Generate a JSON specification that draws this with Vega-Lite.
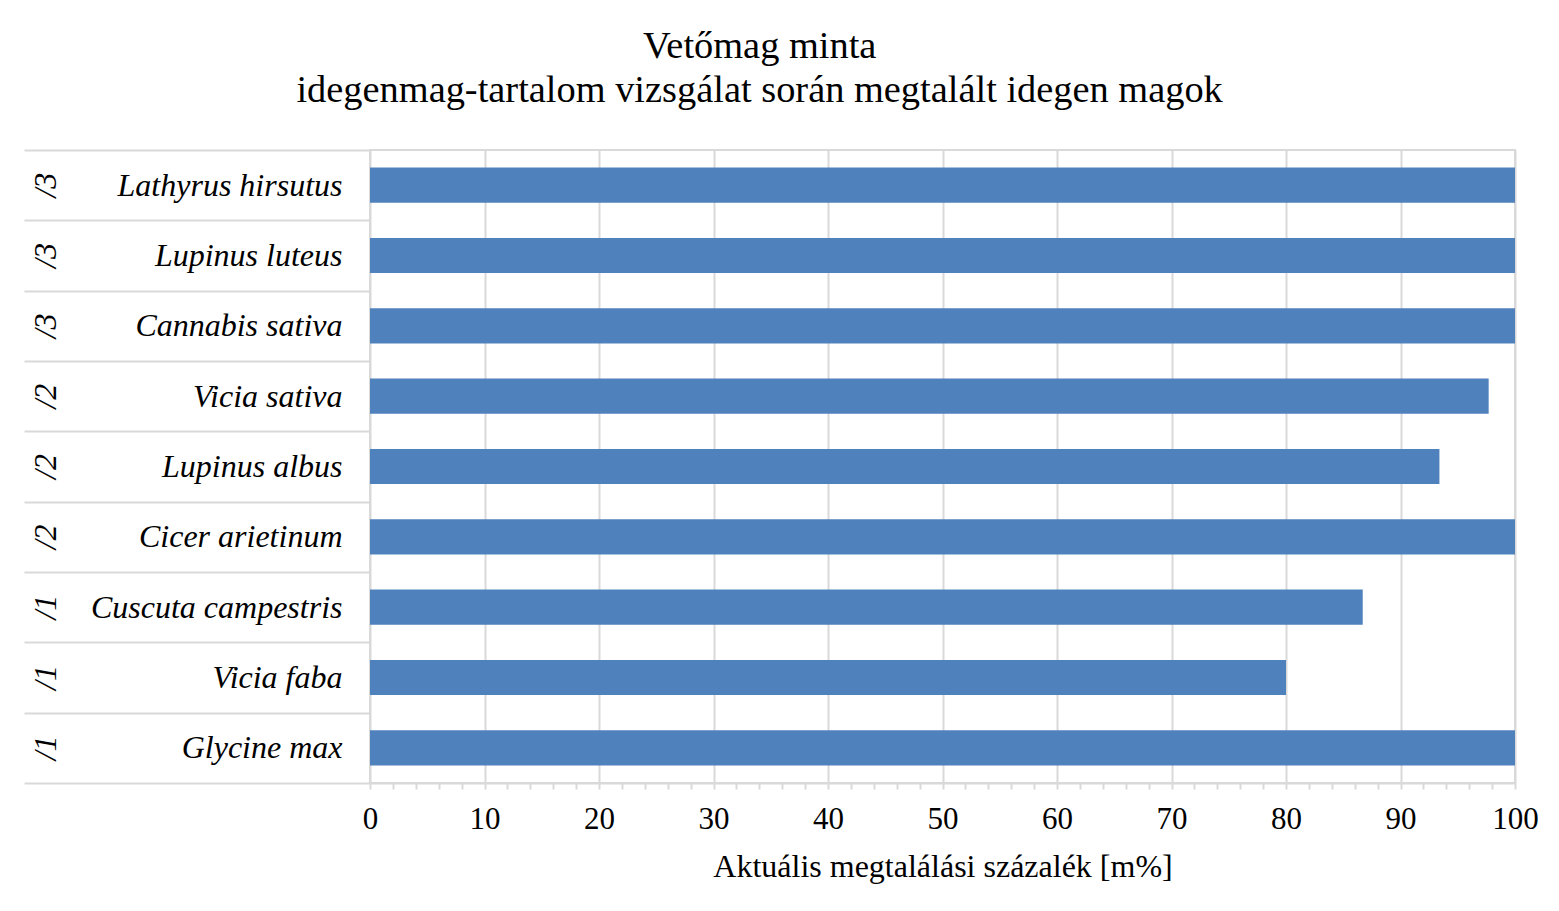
{
  "$schema": "https://vega.github.io/schema/vega-lite/v6.json",
  "width": 1145,
  "height": 633,
  "padding": {"left": 23, "top": 26, "right": 20, "bottom": 20},
  "background": "white",
  "title": {
    "text": ["Vetőmag minta", "idegenmag-tartalom vizsgálat során megtalált idegen magok"],
    "font": "Liberation Serif",
    "fontSize": 38.4,
    "fontWeight": "normal",
    "color": "#000000",
    "anchor": "middle",
    "frame": "bounds",
    "lineHeight": 44,
    "offset": 24,
    "dx": -21
  },
  "config": {
    "view": {"stroke": "#d9d9d9", "strokeWidth": 2},
    "font": "Liberation Serif"
  },
  "data": {
    "values": [
      {"group": "/3", "species": "Lathyrus hirsutus", "value": 100},
      {"group": "/3", "species": "Lupinus luteus", "value": 100},
      {"group": "/3", "species": "Cannabis sativa", "value": 100},
      {"group": "/2", "species": "Vicia sativa", "value": 97.7},
      {"group": "/2", "species": "Lupinus albus", "value": 93.4},
      {"group": "/2", "species": "Cicer arietinum", "value": 100},
      {"group": "/1", "species": "Cuscuta campestris", "value": 86.7},
      {"group": "/1", "species": "Vicia faba", "value": 80.0},
      {"group": "/1", "species": "Glycine max", "value": 100}
    ]
  },
  "transform": [{"calculate": "datum.group + '|' + datum.species", "as": "cat"}],
  "encoding": {
    "x": {
      "field": "value",
      "type": "quantitative",
      "scale": {"domain": [0, 100], "nice": false, "zero": true},
      "axis": {
        "title": "Aktuális megtalálási százalék [m%]",
        "titleFont": "Liberation Serif",
        "titleFontSize": 32,
        "titleFontWeight": "normal",
        "titleColor": "#000000",
        "titlePadding": 17,
        "values": [0,2,4,6,8,10,12,14,16,18,20,22,24,26,28,30,32,34,36,38,40,42,44,46,48,50,52,54,56,58,60,62,64,66,68,70,72,74,76,78,80,82,84,86,88,90,92,94,96,98,100],
        "labelExpr": "datum.value % 10 === 0 ? datum.label : ''",
        "labelFont": "Liberation Serif",
        "labelFontSize": 31,
        "labelColor": "#000000",
        "labelPadding": 15,
        "labelFlush": false,
        "labelOverlap": false,
        "grid": true,
        "gridColor": "#d9d9d9",
        "gridWidth": 2,
        "gridOpacity": {"condition": {"test": "datum.value % 10 === 0", "value": 1}, "value": 0},
        "ticks": true,
        "tickSize": 6,
        "tickColor": "#d9d9d9",
        "tickWidth": 2,
        "domain": true,
        "domainColor": "#d9d9d9",
        "domainWidth": 2
      }
    }
  },
  "layer": [
    {
      "mark": {"type": "bar", "color": "#4f81bd", "height": {"band": 0.5}},
      "encoding": {
        "y": {
          "field": "cat",
          "type": "nominal",
          "sort": null,
          "scale": {"paddingInner": 0, "paddingOuter": 0},
          "axis": {
            "orient": "left",
            "title": null,
            "labelExpr": "split(datum.value, '|')[1]",
            "labelFont": "Liberation Serif",
            "labelFontStyle": "italic",
            "labelFontSize": 32,
            "labelColor": "#000000",
            "labelAlign": "right",
            "labelBaseline": "middle",
            "labelPadding": -318,
            "labelLimit": 400,
            "ticks": true,
            "tickBand": "extent",
            "tickSize": 346,
            "tickColor": "#d9d9d9",
            "tickWidth": 2,
            "domain": false,
            "grid": false
          }
        }
      }
    },
    {
      "mark": {"type": "bar", "color": "#4f81bd", "opacity": 0, "height": {"band": 0.5}},
      "encoding": {
        "y": {
          "field": "cat",
          "type": "nominal",
          "sort": null,
          "axis": {
            "orient": "left",
            "title": null,
            "labelExpr": "split(datum.value, '|')[0]",
            "labelFont": "Liberation Serif",
            "labelFontStyle": "italic",
            "labelFontSize": 32,
            "labelColor": "#000000",
            "labelAngle": -90,
            "labelAlign": "center",
            "labelBaseline": "middle",
            "labelPadding": 325,
            "ticks": false,
            "domain": false,
            "grid": false
          }
        }
      }
    }
  ],
  "resolve": {"axis": {"y": "independent"}}
}
